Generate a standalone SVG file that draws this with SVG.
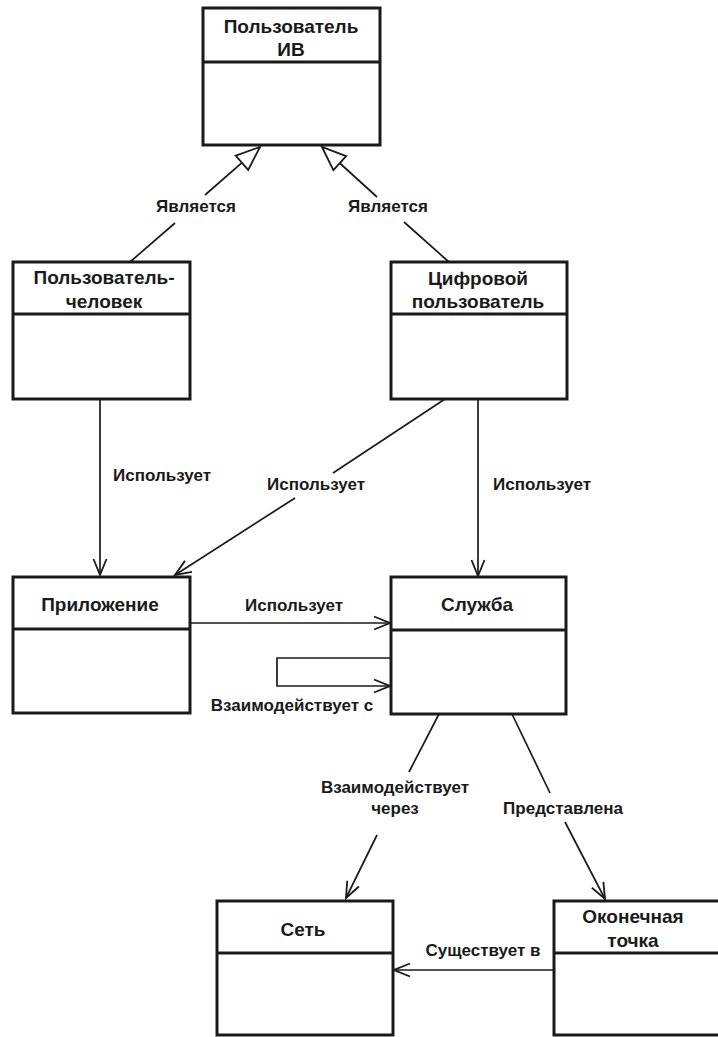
<svg xmlns="http://www.w3.org/2000/svg" width="718" height="1037" viewBox="0 0 718 1037">
<defs>
<style>
.box{fill:#fff;stroke:#1a1a1a;stroke-width:3}
.div{stroke:#1a1a1a;stroke-width:3}
.t{font-family:"Liberation Sans",Arial,sans-serif;font-weight:bold;font-size:19px;fill:#1a1a1a;text-anchor:middle}
.l{font-family:"Liberation Sans",Arial,sans-serif;font-weight:bold;font-size:17px;fill:#1a1a1a;text-anchor:middle}
.c{fill:none;stroke:#1a1a1a;stroke-width:1.7}
</style>
<marker id="open" markerUnits="userSpaceOnUse" markerWidth="20" markerHeight="16" viewBox="-18 -8 20 16" refX="0" refY="0" orient="auto">
<path d="M-16,-6.5 L0,0 L-16,6.5" fill="none" stroke="#1a1a1a" stroke-width="1.8"/>
</marker>
<marker id="gen" markerUnits="userSpaceOnUse" markerWidth="30" markerHeight="24" viewBox="-27 -12 30 24" refX="0" refY="0" orient="auto">
<path d="M0,0 L-24,-9.5 L-24,9.5 Z" fill="#fff" stroke="#1a1a1a" stroke-width="1.8"/>
</marker>
</defs>
<rect width="718" height="1037" fill="#fff"/>

<g id="connectors">
<path class="c" d="M130,262 L175,223"/>
<path class="c" d="M205,195 L260,147" marker-end="url(#gen)"/>
<path class="c" d="M449,262 L404,222"/>
<path class="c" d="M377,197 L322,147" marker-end="url(#gen)"/>
<path class="c" d="M100,399 L100,575" marker-end="url(#open)"/>
<path class="c" d="M445,399 L333,473"/>
<path class="c" d="M295,498 L175,575" marker-end="url(#open)"/>
<path class="c" d="M478,399 L478,576" marker-end="url(#open)"/>
<path class="c" d="M190,623 L390,623" marker-end="url(#open)"/>
<path class="c" d="M391,658 L277,658 L277,686 L390,686" marker-end="url(#open)"/>
<path class="c" d="M439,714 L409,772"/>
<path class="c" d="M377,835 L346,898" marker-end="url(#open)"/>
<path class="c" d="M512,714 L550,793"/>
<path class="c" d="M565,822 L605,899" marker-end="url(#open)"/>
<path class="c" d="M554,970 L394,970" marker-end="url(#open)"/>
<text class="l" x="196" y="212">Является</text>
<text class="l" x="388" y="212">Является</text>
<text class="l" x="162" y="481">Использует</text>
<text class="l" x="316" y="490">Использует</text>
<text class="l" x="542" y="490">Использует</text>
<text class="l" x="294" y="611">Использует</text>
<text class="l" x="292" y="711">Взаимодействует с</text>
<text class="l" x="395" y="793">Взаимодействует</text>
<text class="l" x="395" y="814">через</text>
<text class="l" x="563" y="814">Представлена</text>
<text class="l" x="483" y="956">Существует в</text>
</g>

<g id="user-iv">
<rect class="box" x="203" y="8" width="177" height="137"/>
<line class="div" x1="203" y1="62" x2="380" y2="62"/>
<text class="t" x="291" y="33">Пользователь</text>
<text class="t" x="291" y="56">ИВ</text>
</g>

<g id="human-user">
<rect class="box" x="13" y="262" width="177" height="137"/>
<line class="div" x1="13" y1="314" x2="190" y2="314"/>
<text class="t" x="104" y="284">Пользователь-</text>
<text class="t" x="104" y="308">человек</text>
</g>

<g id="digital-user">
<rect class="box" x="391" y="262" width="176" height="137"/>
<line class="div" x1="391" y1="314" x2="567" y2="314"/>
<text class="t" x="478" y="285">Цифровой</text>
<text class="t" x="478" y="308">пользователь</text>
</g>

<g id="application">
<rect class="box" x="13" y="577" width="177" height="136"/>
<line class="div" x1="13" y1="629" x2="190" y2="629"/>
<text class="t" x="100" y="611">Приложение</text>
</g>

<g id="service">
<rect class="box" x="391" y="577" width="175" height="137"/>
<line class="div" x1="391" y1="630" x2="566" y2="630"/>
<text class="t" x="477" y="611">Служба</text>
</g>

<g id="network">
<rect class="box" x="217" y="901" width="176" height="134"/>
<line class="div" x1="217" y1="953" x2="393" y2="953"/>
<text class="t" x="303" y="936">Сеть</text>
</g>

<g id="endpoint">
<rect class="box" x="554" y="901" width="176" height="134"/>
<line class="div" x1="554" y1="953" x2="730" y2="953"/>
<text class="t" x="633" y="923">Оконечная</text>
<text class="t" x="633" y="947">точка</text>
</g>
</svg>
